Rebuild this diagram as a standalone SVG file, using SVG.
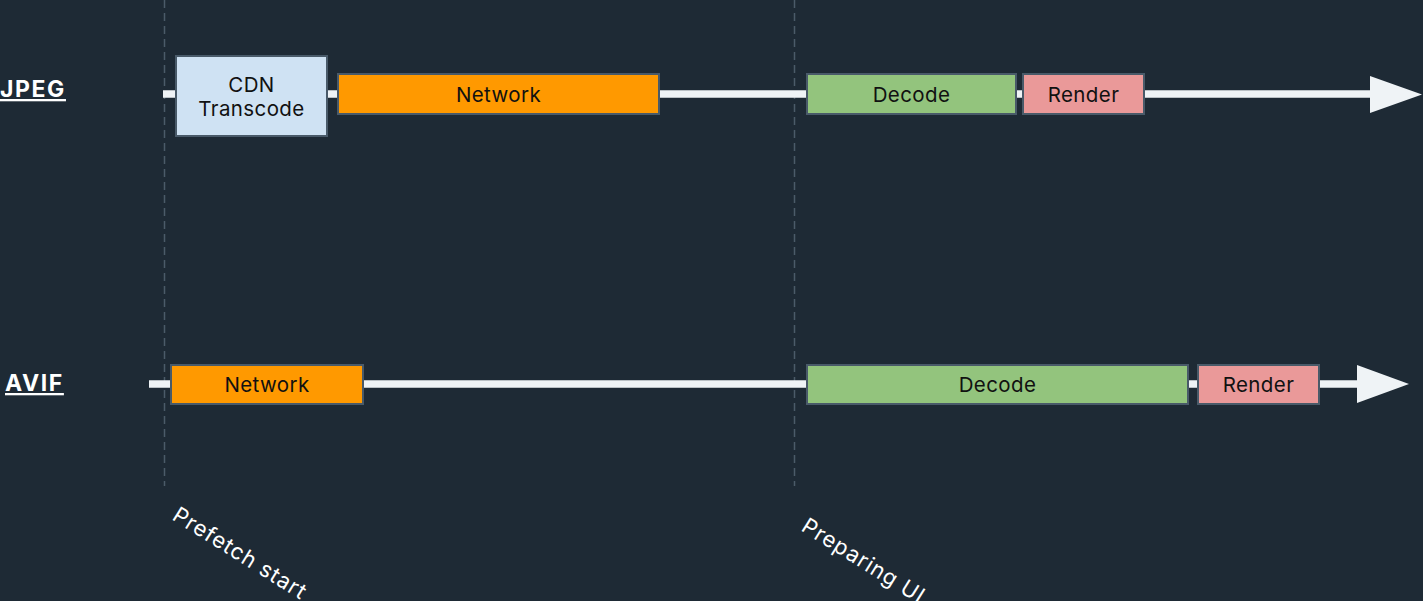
<svg xmlns="http://www.w3.org/2000/svg" width="1423" height="601" viewBox="0 0 1423 601">
<style>
.bg{fill:#1e2a35}
.guide{stroke:#4b5b69;stroke-width:1.5;stroke-dasharray:8 5;fill:none}
.track{stroke:#eff3f6;stroke-width:7.5;fill:none}
.head{fill:#eff3f6}
.box{stroke:#495a69;stroke-width:2}
.t{font-family:Inter,"Noto Sans",sans-serif;font-size:20.5px;letter-spacing:0.4px;fill:#111;text-anchor:middle}
.lbl{font-family:Inter,"Noto Sans",sans-serif;font-size:23px;font-weight:bold;letter-spacing:1.6px;fill:#fff;text-decoration:underline}
.rot{font-family:Inter,"Noto Sans",sans-serif;font-size:22px;letter-spacing:0.9px;fill:#fff}
</style>
<rect class="bg" x="0" y="0" width="1423" height="601"/>
<g id="connectors">
<line class="guide" x1="164.5" y1="0" x2="164.5" y2="486"/>
<line class="guide" x1="794.5" y1="0" x2="794.5" y2="486"/>
<line class="track" x1="163" y1="94" x2="1372" y2="94"/>
<polygon class="head" points="1370,76 1422,94.5 1370,113"/>
<line class="track" x1="149" y1="384" x2="1358" y2="384"/>
<polygon class="head" points="1357,365 1409,384 1357,403"/>
</g>
<g id="jpeg-label"><text class="lbl" x="0" y="97">JPEG</text></g>
<g id="avif-label"><text class="lbl" x="5" y="391">AVIF</text></g>
<g id="jpeg-cdn"><rect class="box" x="176" y="56" width="151" height="80" fill="#cfe2f3"/><text class="t" x="251.5" y="92">CDN</text><text class="t" x="251.5" y="116">Transcode</text></g>
<g id="jpeg-network"><rect class="box" x="338" y="74" width="321" height="40" fill="#ff9900"/><text class="t" x="498.5" y="102">Network</text></g>
<g id="jpeg-decode"><rect class="box" x="807" y="74" width="209" height="40" fill="#93c47d"/><text class="t" x="911.5" y="102">Decode</text></g>
<g id="jpeg-render"><rect class="box" x="1023" y="74" width="121" height="40" fill="#ea9999"/><text class="t" x="1083.5" y="102">Render</text></g>
<g id="avif-network"><rect class="box" x="171" y="365" width="192" height="39" fill="#ff9900"/><text class="t" x="267" y="392">Network</text></g>
<g id="avif-decode"><rect class="box" x="807" y="365" width="381" height="39" fill="#93c47d"/><text class="t" x="997.5" y="392">Decode</text></g>
<g id="avif-render"><rect class="box" x="1198" y="365" width="121" height="39" fill="#ea9999"/><text class="t" x="1258.5" y="392">Render</text></g>
<g id="prefetch-start"><text class="rot" transform="translate(171,519) rotate(32)">Prefetch start</text></g>
<g id="preparing-ui"><text class="rot" transform="translate(800,530) rotate(32)">Preparing UI</text></g>
</svg>
